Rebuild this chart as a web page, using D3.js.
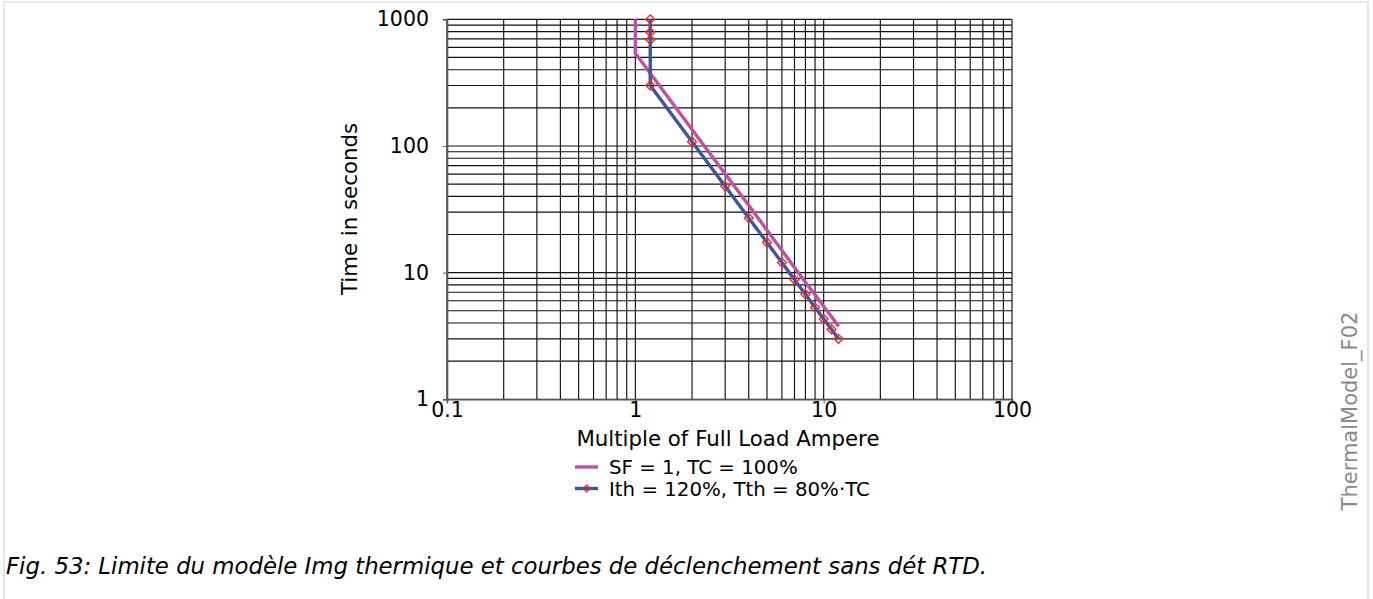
<!DOCTYPE html>
<html>
<head>
<meta charset="utf-8">
<script src="https://cdn.jsdelivr.net/npm/d3@7/dist/d3.min.js"></script>
<style>
  html, body { margin: 0; padding: 0; background: #fff; }
  svg { display: block; }
  text { font-family: "DejaVu Sans", sans-serif; fill: #000; }
</style>
</head>
<body>
<svg id="chart" width="1373" height="599"></svg>
<script>
// ---- data ----
const xTicks = [0.1, 1, 10, 100];
const xTickLabels = ["0.1", "1", "10", "100"];
const yTicks = [1, 10, 100, 1000];
const yTickLabels = ["1", "10", "100", "1000"];

// SF = 1, TC = 100%
const sfCurrent = [1, 1, 2, 3, 4, 5, 6, 7, 8, 9, 10, 11, 12];
const sfTime    = [1000, 540, 135, 60, 34, 21.6, 15, 11, 8.4, 6.7, 5.4, 4.5, 3.75];

// Ith = 120%, Tth = 80%·TC
const thCurrent = [1.2, 1.2, 1.2, 1.2, 2, 3, 4, 5, 6, 7, 8, 9, 10, 11, 12];
const thTime    = [1000, 790, 690, 300, 108, 48, 27, 17.3, 12, 8.8, 6.75, 5.3, 4.3, 3.57, 3.0];

const seriesNames = ["SF = 1, TC = 100%", "Ith = 120%, Tth = 80%·TC"];
const xTitle = "Multiple of Full Load Ampere";
const yTitle = "Time in seconds";
const caption = "Fig. 53: Limite du modèle Img thermique et courbes de déclenchement sans dét RTD.";
const sideLabel = "ThermalModel_F02";

// ---- layout ----
const svg = d3.select("#chart");
const plot = { left: 447, right: 1012, top: 19.3, bottom: 399.3 };
const pink = "#c04fa7", blue = "#3a55a5", red = "#f02828";

// page frame
svg.append("rect").attr("x", 4).attr("y", 2).attr("width", 1364).attr("height", 610)
  .attr("fill", "none").attr("stroke", "#e6e6e6").attr("stroke-width", 2);

const x = d3.scaleLog().domain([0.1, 100]).range([plot.left, plot.right]);
const y = d3.scaleLog().domain([1, 1000]).range([plot.bottom, plot.top]);

// grid
const xGrid = [], yGrid = [];
[0.1, 1, 10].forEach(d => { for (let k = 1; k <= 9; k++) xGrid.push(d * k); });
xGrid.push(100);
[1, 10, 100].forEach(d => { for (let k = 1; k <= 9; k++) yGrid.push(d * k); });
yGrid.push(1000);

const g = svg.append("g");
g.selectAll(".vg").data(xGrid).join("line")
  .attr("x1", d => x(d)).attr("x2", d => x(d))
  .attr("y1", plot.top).attr("y2", plot.bottom)
  .attr("stroke", "#111").attr("stroke-width", 1.15);
g.selectAll(".hg").data(yGrid).join("line")
  .attr("x1", plot.left).attr("x2", plot.right)
  .attr("y1", d => y(d)).attr("y2", d => y(d))
  .attr("stroke", "#111").attr("stroke-width", 1.15);

// axes
const xAxis = d3.axisBottom(x).tickValues(xTicks).tickSize(4)
  .tickFormat((d, i) => xTickLabels[i]);
const yAxis = d3.axisLeft(y).tickValues(yTicks).tickSize(4)
  .tickFormat((d, i) => yTickLabels[i]);

const gx = svg.append("g").attr("transform", `translate(0,${plot.bottom})`).call(xAxis);
gx.select(".domain").attr("stroke", "#555").attr("stroke-width", 1.6);
gx.selectAll(".tick line").attr("stroke", "#555");
gx.selectAll(".tick text").attr("font-size", 20.5).attr("font-family", "DejaVu Sans")
  .attr("y", 3).attr("dy", "0.71em");

const gy = svg.append("g").attr("transform", `translate(${plot.left},0)`).call(yAxis);
gy.select(".domain").attr("stroke", "#555").attr("stroke-width", 1.6);
gy.selectAll(".tick line").attr("stroke", "#555");
gy.selectAll(".tick text").attr("font-size", 20.5).attr("font-family", "DejaVu Sans")
  .attr("x", -18);

// axis titles
svg.append("text").attr("x", 728).attr("y", 446).attr("text-anchor", "middle")
  .attr("font-size", 21.3).text(xTitle);
svg.append("text").attr("transform", "translate(357,209) rotate(-90)")
  .attr("text-anchor", "middle").attr("font-size", 21.3).text(yTitle);

// curves
const line = d3.line().x(d => x(d[0])).y(d => y(d[1]));
const sfData = sfCurrent.map((c, i) => [c, sfTime[i]]);
const thData = thCurrent.map((c, i) => [c, thTime[i]]);

svg.append("path").datum(sfData).attr("d", line)
  .attr("fill", "none").attr("stroke", pink).attr("stroke-width", 3.4);
svg.append("path").datum(thData).attr("d", line)
  .attr("fill", "none").attr("stroke", blue).attr("stroke-width", 3.4);

const diamond = d3.symbol().type(d3.symbolDiamond2).size(50);
svg.selectAll(".mk").data(thData).join("path")
  .attr("transform", d => `translate(${x(d[0])},${y(d[1])})`)
  .attr("d", diamond)
  .attr("fill", "none").attr("stroke", red).attr("stroke-width", 1.4);

// legend
const lg = svg.append("g");
lg.append("line").attr("x1", 575).attr("x2", 598).attr("y1", 467).attr("y2", 467)
  .attr("stroke", pink).attr("stroke-width", 3.4);
lg.append("text").attr("x", 609).attr("y", 473.5).attr("font-size", 19.8).text(seriesNames[0]);
lg.append("line").attr("x1", 575).attr("x2", 598).attr("y1", 488.5).attr("y2", 488.5)
  .attr("stroke", blue).attr("stroke-width", 3.4);
lg.append("path").attr("transform", "translate(586.5,488.5)")
  .attr("d", d3.symbol().type(d3.symbolDiamond2).size(30))
  .attr("fill", "none").attr("stroke", red).attr("stroke-width", 1.3);
lg.append("text").attr("x", 609).attr("y", 495.5).attr("font-size", 19.8).text(seriesNames[1]);

// side label
svg.append("text").attr("transform", "translate(1357,411) rotate(-90)")
  .attr("text-anchor", "middle").attr("font-size", 21)
  .attr("font-family", "Liberation Sans, Arial, sans-serif")
  .style("fill", "#8a8a8a").text(sideLabel);

// caption
svg.append("text").attr("x", 6).attr("y", 574)
  .attr("font-size", 22.8).attr("font-style", "italic").text(caption);
</script>
</body>
</html>
